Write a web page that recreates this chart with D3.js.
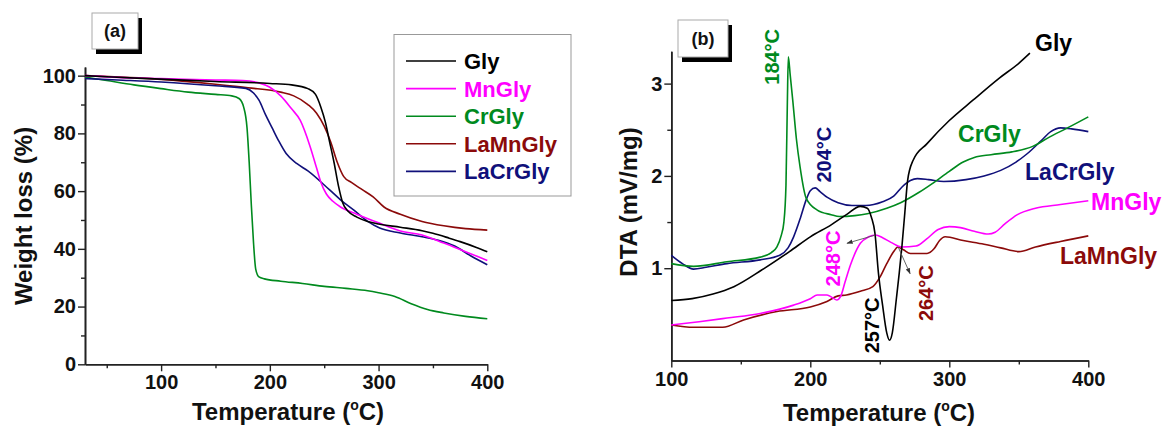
<!DOCTYPE html>
<html>
<head>
<meta charset="utf-8">
<script src="https://cdn.jsdelivr.net/npm/d3@7"></script>
<style>
  html, body { margin: 0; padding: 0; background: #fff; }
  svg { display: block; font-family: "Liberation Sans", Arial, sans-serif; font-weight: bold; }
</style>
</head>
<body>
<svg id="chart" width="1170" height="428"></svg>
<script>
// ---- Series names and colours ----
const seriesNames = ["Gly", "MnGly", "CrGly", "LaMnGly", "LaCrGly"];
const seriesColors = ["#000000", "#ff00ff", "#008a1e", "#8b0a0a", "#10107a"];

// ---- (a) TGA: temperature (°C) / weight loss (%) ----
const tgaGlyT   = [30, 50, 100, 150, 200, 220, 235, 242, 247, 251, 255, 259, 263, 267, 272, 280, 290, 300, 320, 340, 350, 365, 375, 390, 400];
const tgaGlyW   = [100, 99.6, 98.8, 98, 97.3, 96.8, 95.5, 93.5, 89, 84, 77, 70, 62, 56, 53, 51, 49.5, 48.6, 47.5, 46.3, 45.4, 43.7, 42.5, 40.5, 39];
const tgaMnT    = [30, 60, 100, 150, 175, 190, 200, 210, 220, 228, 237, 243, 247, 252, 258, 265, 280, 300, 320, 340, 360, 380, 400];
const tgaMnW    = [100, 99.4, 99, 98.5, 98.3, 97.5, 96, 93, 88.5, 84.5, 75.5, 68, 63, 59, 56.5, 54.5, 52, 49, 46.2, 44.8, 42, 39, 36];
const tgaCrT    = [30, 50, 75, 100, 125, 150, 165, 172, 176, 179, 181, 183, 185, 187, 190, 195, 210, 230, 250, 270, 290, 300, 315, 330, 345, 360, 380, 400];
const tgaCrW    = [99.5, 98.3, 96.8, 95.5, 94.3, 93.5, 93, 92, 89, 82, 70, 55, 42, 33, 30.3, 29.6, 28.8, 28, 27, 26.3, 25.5, 24.8, 23.5, 21, 19, 17.8, 16.6, 15.8];
const tgaLaMnT  = [30, 100, 150, 180, 210, 222, 235, 243, 250, 256, 262, 268, 275, 285, 295, 305, 320, 340, 360, 380, 400];
const tgaLaMnW  = [100, 98.7, 97, 95.8, 94.3, 93, 90, 87, 82.5, 77, 70, 65, 63, 60.5, 58, 54.5, 52, 49.5, 48, 47, 46.5];
const tgaLaCrT  = [30, 60, 100, 150, 178, 185, 190, 196, 202, 208, 215, 225, 235, 255, 265, 277, 290, 301, 320, 340, 355, 370, 385, 400];
const tgaLaCrW  = [99, 98.5, 97.8, 96.5, 95.6, 94, 91.5, 86.5, 82, 77.5, 73, 69.5, 67, 60.4, 57, 53.5, 49.5, 47.2, 45.5, 44.2, 43, 41, 37.5, 34.5];

// ---- (b) DTA: temperature (°C) / signal (mV/mg) ----
const dtaGlyT   = [100, 115, 130, 145, 165, 185, 200, 215, 226, 236, 241, 244, 246.5, 249, 252, 255, 257, 259, 262, 264, 266, 268, 270, 274, 284, 300, 317, 336, 350, 358];
const dtaGlyV   = [0.65, 0.67, 0.72, 0.8, 0.98, 1.18, 1.34, 1.47, 1.58, 1.67, 1.65, 1.55, 1.38, 0.95, 0.6, 0.3, 0.22, 0.3, 0.68, 0.95, 1.25, 1.6, 1.95, 2.17, 2.35, 2.6, 2.82, 3.06, 3.22, 3.33];
const dtaMnT    = [100, 120, 140, 164, 188, 200, 205, 212, 216, 219, 222, 225, 229, 236, 242, 247, 252, 258, 266, 276, 284, 292, 300, 308, 318, 328, 333, 340, 349, 362, 380, 400];
const dtaMnV    = [0.385, 0.42, 0.46, 0.51, 0.6, 0.67, 0.71, 0.71, 0.68, 0.655, 0.7, 0.85, 1.04, 1.27, 1.34, 1.36, 1.33, 1.28, 1.23, 1.24, 1.32, 1.42, 1.45, 1.44, 1.4, 1.37, 1.39, 1.48, 1.58, 1.65, 1.69, 1.73];
const dtaCrT    = [100, 116, 140, 164, 172, 176, 179, 181, 182.5, 183.5, 184.2, 185.5, 187.5, 190, 192.6, 197, 205, 215, 221, 232, 241, 255, 265, 278, 288, 300, 310, 318, 330, 345, 360, 372, 385, 400];
const dtaCrV    = [1.05, 1.02, 1.07, 1.12, 1.17, 1.23, 1.35, 1.5, 1.9, 2.8, 3.29, 3.1, 2.8, 2.4, 2.1, 1.76, 1.63, 1.58, 1.56, 1.57, 1.59, 1.65, 1.71, 1.82, 1.92, 2.05, 2.15, 2.2, 2.23, 2.26, 2.32, 2.42, 2.52, 2.64];
const dtaLaMnT  = [100, 116, 137, 152, 176, 200, 212, 220, 226, 236, 245, 250, 255, 260, 263, 267, 272, 284, 289, 293, 297, 310, 325, 337, 350, 362, 380, 400];
const dtaLaMnV  = [0.385, 0.36, 0.36, 0.44, 0.53, 0.58, 0.64, 0.7, 0.71, 0.75, 0.8, 0.9, 1.05, 1.18, 1.23, 1.2, 1.16, 1.16, 1.21, 1.3, 1.34, 1.3, 1.26, 1.22, 1.18, 1.23, 1.29, 1.35];
const dtaLaCrT  = [100, 108, 116, 125, 140, 164, 178, 184, 188, 193, 197, 200, 203.5, 207, 212, 220, 230, 240, 252, 260, 266, 272, 277, 285, 296, 312, 325, 337, 348, 356, 366, 373, 380, 388, 400];
const dtaLaCrV  = [1.14, 1.05, 0.99, 1.01, 1.05, 1.09, 1.14, 1.22, 1.34, 1.55, 1.74, 1.84, 1.87, 1.83, 1.77, 1.71, 1.68, 1.68, 1.72, 1.78, 1.88, 1.95, 1.97, 1.96, 1.94, 1.96, 2.0, 2.06, 2.15, 2.24, 2.38, 2.48, 2.52, 2.51, 2.48];

// ---- Axis ticks ----
const tgaXTicks = [100, 200, 300, 400];
const tgaXMinor = [50, 150, 250, 350];
const tgaYTicks = [0, 20, 40, 60, 80, 100];
const tgaYMinor = [10, 30, 50, 70, 90];
const dtaXTicks = [100, 200, 300, 400];
const dtaXMinor = [150, 250, 350];
const dtaYTicks = [1, 2, 3];
const dtaYMinor = [1.5, 2.5];

// ---- Peak annotations on (b): label, temperature and signal at the label centre ----
const peakLabels = ["184°C", "204°C", "248°C", "257°C", "264°C"];
const peakColors = ["#008a1e", "#10107a", "#ff00ff", "#000000", "#8b0a0a"];
const peakLabelT = [172.1, 209.9, 216.0, 244.4, 283.2];
const peakLabelV = [3.29, 2.23, 1.105, 0.38, 0.73];
// Arrows: start (T,V) -> end (T,V)
const arrowFromT = [247, 263.2];
const arrowFromV = [1.36, 1.23];
const arrowToT   = [226.4, 271.8];
const arrowToV   = [1.27, 0.94];

// Series names beside the curves on (b), same order as seriesNames
const dtaNameT = [361.7, 402.0, 306.3, 379.6, 354.5];
const dtaNameV = [3.44, 1.72, 2.46, 1.14, 2.05];

const svg = d3.select("#chart");
svg.append("rect").attr("width", 1170).attr("height", 428).attr("fill", "#fff");

const defs = svg.append("defs");
defs.append("marker").attr("id", "arrowHead").attr("viewBox", "0 0 10 10")
  .attr("refX", 9).attr("refY", 5).attr("markerWidth", 7).attr("markerHeight", 7)
  .attr("orient", "auto")
  .append("path").attr("d", "M0,1.5 L10,5 L0,8.5 Z").attr("fill", "#333");

// Scales
const xA = d3.scaleLinear().domain([30, 400]).range([85, 487.3]);
const yA = d3.scaleLinear().domain([0, 103]).range([364.3, 67]);
const xB = d3.scaleLinear().domain([100, 400]).range([671.3, 1088.3]);
const yB = d3.scaleLinear().domain([0, 3.35]).range([360.5, 51.3]);

function drawAxes(g, x, y, xt, xm, yt, ym) {
  const ax = g.append("g").attr("transform", `translate(0,${y.range()[0]})`)
    .call(d3.axisBottom(x).tickValues(xt).tickSize(7).tickSizeOuter(0).tickPadding(4).tickFormat(d3.format("d")));
  const axm = g.append("g").attr("transform", `translate(0,${y.range()[0]})`)
    .call(d3.axisBottom(x).tickValues(xm).tickSize(4).tickSizeOuter(0).tickFormat(""));
  const ay = g.append("g").attr("transform", `translate(${x.range()[0]},0)`)
    .call(d3.axisLeft(y).tickValues(yt).tickSize(7).tickSizeOuter(0).tickPadding(2).tickFormat(d3.format("d")));
  const aym = g.append("g").attr("transform", `translate(${x.range()[0]},0)`)
    .call(d3.axisLeft(y).tickValues(ym).tickSize(4).tickSizeOuter(0).tickFormat(""));
  [ax, axm, ay, aym].forEach(a => {
    a.selectAll(".domain").attr("stroke", "#222").attr("stroke-width", 1.6);
    a.selectAll(".tick line").attr("stroke", "#222").attr("stroke-width", 1.4);
    a.selectAll(".tick text").attr("fill", "#111").attr("font-size", 20)
      .attr("font-family", "'Liberation Sans', Arial, sans-serif").attr("font-weight", "bold");
  });
}

function drawLine(g, x, y, ts, vs, color) {
  const pts = ts.map((t, i) => [t, vs[i]]);
  g.append("path").datum(pts)
    .attr("fill", "none").attr("stroke", color).attr("stroke-width", 1.6)
    .attr("stroke-linejoin", "round")
    .attr("d", d3.line().x(d => x(d[0])).y(d => y(d[1])).curve(d3.curveMonotoneX));
}

function panelTag(g, x0, y0, w, h, label) {
  g.append("rect").attr("x", x0 + 4).attr("y", y0 + 5).attr("width", w).attr("height", h).attr("fill", "#000");
  g.append("rect").attr("x", x0).attr("y", y0).attr("width", w).attr("height", h)
    .attr("fill", "#fff").attr("stroke", "#aaa").attr("stroke-width", 1);
  g.append("text").attr("x", x0 + w / 2).attr("y", y0 + h / 2).attr("dy", "0.36em")
    .attr("text-anchor", "middle").attr("font-size", 18).attr("fill", "#111").text(label);
}

function tempTitle(g, cx, by) {
  const t = g.append("text").attr("x", cx).attr("y", by).attr("text-anchor", "middle")
    .attr("font-size", 24).attr("fill", "#111");
  t.append("tspan").text("Temperature (");
  t.append("tspan").attr("font-size", 14).attr("dy", -10).text("o");
  t.append("tspan").attr("dy", 10).text("C)");
}

// ---------- Panel (a) ----------
const gA = svg.append("g");
drawAxes(gA, xA, yA, tgaXTicks, tgaXMinor, tgaYTicks, tgaYMinor);
const tgaT = [tgaGlyT, tgaMnT, tgaCrT, tgaLaMnT, tgaLaCrT];
const tgaW = [tgaGlyW, tgaMnW, tgaCrW, tgaLaMnW, tgaLaCrW];
// green first so the others sit on top
[2, 3, 4, 1, 0].forEach(i => drawLine(gA, xA, yA, tgaT[i], tgaW[i], seriesColors[i]));

panelTag(gA, 92, 13, 46, 36, "(a)");
tempTitle(gA, 288, 420);
gA.append("text").attr("transform", "translate(32,216) rotate(-90)")
  .attr("text-anchor", "middle").attr("font-size", 24).attr("fill", "#111").text("Weight loss (%)");

// Legend
const leg = gA.append("g");
leg.append("rect").attr("x", 394).attr("y", 34.5).attr("width", 177).attr("height", 161.5)
  .attr("fill", "#fff").attr("stroke", "#999").attr("stroke-width", 1);
seriesNames.forEach((name, i) => {
  const yy = 61 + i * 27.6;
  leg.append("line").attr("x1", 406).attr("x2", 456).attr("y1", yy).attr("y2", yy)
    .attr("stroke", seriesColors[i]).attr("stroke-width", 1.6);
  leg.append("text").attr("x", 464).attr("y", yy).attr("dy", "0.36em")
    .attr("font-size", 22).attr("fill", seriesColors[i]).text(name);
});

// ---------- Panel (b) ----------
const gB = svg.append("g");
drawAxes(gB, xB, yB, dtaXTicks, dtaXMinor, dtaYTicks, dtaYMinor);
const dtaT = [dtaGlyT, dtaMnT, dtaCrT, dtaLaMnT, dtaLaCrT];
const dtaV = [dtaGlyV, dtaMnV, dtaCrV, dtaLaMnV, dtaLaCrV];
[3, 1, 4, 2, 0].forEach(i => drawLine(gB, xB, yB, dtaT[i], dtaV[i], seriesColors[i]));

panelTag(gB, 678, 20, 50, 37, "(b)");
tempTitle(gB, 879, 421);
gB.append("text").attr("transform", "translate(637,202) rotate(-90)")
  .attr("text-anchor", "middle").attr("font-size", 24).attr("fill", "#111").text("DTA (mV/mg)");

// Peak temperature labels
peakLabels.forEach((lab, i) => {
  gB.append("text")
    .attr("transform", `translate(${xB(peakLabelT[i])},${yB(peakLabelV[i])}) rotate(-90)`)
    .attr("text-anchor", "middle").attr("dy", "0.36em")
    .attr("font-size", 20).attr("fill", peakColors[i]).text(lab);
});

// Arrows
arrowFromT.forEach((t, i) => {
  gB.append("line")
    .attr("x1", xB(t)).attr("y1", yB(arrowFromV[i]))
    .attr("x2", xB(arrowToT[i])).attr("y2", yB(arrowToV[i]))
    .attr("stroke", "#555").attr("stroke-width", 0.9)
    .attr("marker-end", "url(#arrowHead)");
});

// Series names next to the curves
seriesNames.forEach((name, i) => {
  gB.append("text").attr("x", xB(dtaNameT[i])).attr("y", yB(dtaNameV[i])).attr("dy", "0.36em")
    .attr("font-size", 23).attr("fill", seriesColors[i]).text(name);
});
</script>
</body>
</html>
